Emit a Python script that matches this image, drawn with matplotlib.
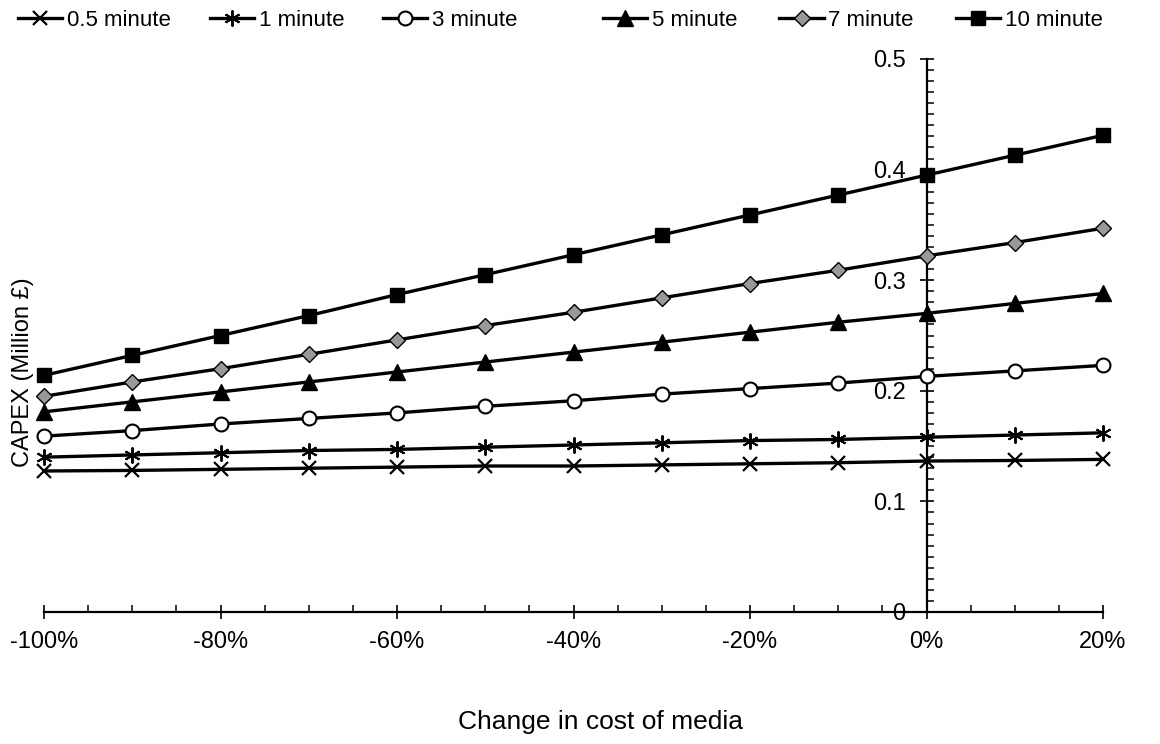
import numpy as np
import matplotlib.pyplot as plt
from matplotlib.ticker import MultipleLocator, FuncFormatter

plt.rcParams['font.family'] = ['Liberation Sans', 'DejaVu Sans']

# change in cost of media (%)
change = [-100, -90, -80, -70, -60, -50, -40, -30, -20, -10, 0, 10, 20]

# CAPEX (Million £) per residence time
capex_05 = [0.1275, 0.128, 0.129, 0.130, 0.131, 0.132, 0.132, 0.133, 0.134, 0.135, 0.1365, 0.137, 0.138]
capex_1 = [0.140, 0.142, 0.144, 0.146, 0.147, 0.149, 0.151, 0.153, 0.155, 0.156, 0.158, 0.160, 0.162]
capex_3 = [0.159, 0.164, 0.170, 0.175, 0.180, 0.186, 0.191, 0.197, 0.202, 0.207, 0.213, 0.218, 0.223]
capex_5 = [0.181, 0.190, 0.199, 0.208, 0.217, 0.226, 0.235, 0.244, 0.253, 0.262, 0.270, 0.279, 0.288]
capex_7 = [0.195, 0.208, 0.220, 0.233, 0.246, 0.259, 0.271, 0.284, 0.297, 0.309, 0.322, 0.334, 0.347]
capex_10 = [0.214, 0.232, 0.250, 0.268, 0.287, 0.305, 0.323, 0.341, 0.359, 0.377, 0.395, 0.413, 0.431]

labels = ['0.5 minute', '1 minute', '3 minute', '5 minute', '7 minute', '10 minute']

fig = plt.figure(figsize=(11.6, 7.44), dpi=100)
ax = fig.add_axes([44/1160, 1-612/744, (1103-44)/1160, (612-59)/744])

styles = [
    dict(marker='x', ms=10, mfc='black', mec='black', mew=1.6),
    dict(marker=(6, 2, 0), ms=11.5, mfc='black', mec='black', mew=1.4),
    dict(marker='o', ms=10, mfc='white', mec='black', mew=1.5),
    dict(marker='^', ms=11, mfc='black', mec='black', mew=1),
    dict(marker='D', ms=8.5, mfc='#999999', mec='black', mew=1),
    dict(marker='s', ms=10, mfc='black', mec='black', mew=1),
]
series = [capex_05, capex_1, capex_3, capex_5, capex_7, capex_10]
handles = []
for s, lab, st in zip(series, labels, styles):
    h, = ax.plot(change, s, color='black', lw=2.4, label=lab, clip_on=False, zorder=3, **st)
    handles.append(h)

ax.set_xlim(-100, 20)
ax.set_ylim(0, 0.5)

ax.spines['top'].set_visible(False)
ax.spines['right'].set_visible(False)
ax.spines['left'].set_position(('data', 0))
ax.spines['bottom'].set_position(('data', 0))
ax.spines['left'].set_linewidth(1.6)
ax.spines['bottom'].set_linewidth(1.6)

ax.xaxis.set_major_locator(MultipleLocator(20))
ax.xaxis.set_minor_locator(MultipleLocator(5))
ax.yaxis.set_major_locator(MultipleLocator(0.1))
ax.yaxis.set_minor_locator(MultipleLocator(0.01))
ax.xaxis.set_major_formatter(FuncFormatter(lambda v, p: '%d%%' % round(v)))
ax.yaxis.set_major_formatter(FuncFormatter(lambda v, p: '0' if abs(v) < 1e-9 else '%.1f' % v))

ax.tick_params(which='major', direction='inout', length=10, width=1.2, labelsize=17)
ax.tick_params(which='minor', direction='in', length=5, width=1.1)
ax.tick_params(axis='x', which='major', pad=9)
ax.tick_params(axis='y', which='major', pad=10)

fig.text(23/1160, 1-372/744, 'CAPEX (Million £)', rotation=90, ha='center', va='center', fontsize=17)
fig.text(600/1160, 1-722/744, 'Change in cost of media', ha='center', va='center', fontsize=19)

# legend row at top, split in two groups like the original
leg1 = fig.legend(handles[:3], labels[:3], loc='center left', bbox_to_anchor=(18/1160, 1-20/744),
                  ncol=3, frameon=False, fontsize=16, handlelength=2.0, handletextpad=0.2,
                  columnspacing=1.75, borderaxespad=0, borderpad=0)
leg2 = fig.legend(handles[3:], labels[3:], loc='center left', bbox_to_anchor=(603/1160, 1-20/744),
                  ncol=3, frameon=False, fontsize=16, handlelength=2.0, handletextpad=0.2,
                  columnspacing=1.9, borderaxespad=0, borderpad=0)

fig.savefig('out.png', dpi=100)
